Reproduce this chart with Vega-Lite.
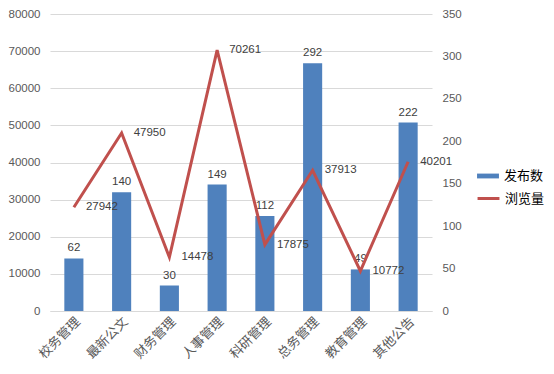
{
  "$schema": "https://vega.github.io/schema/vega-lite/v6.json",
  "width": 382,
  "height": 297,
  "autosize": {"type": "none"},
  "padding": {"left": 50, "top": 14, "right": 122, "bottom": 63},
  "background": "white",
  "config": {
    "view": {"stroke": null},
    "font": "Liberation Sans",
    "axis": {"labelColor": "#595959", "labelFontSize": 11.5, "domain": false, "ticks": false, "grid": false, "title": null, "labelOverlap": false}
  },
  "data": {
    "values": [
      {"cat": "校务管理", "pub": 62, "views": 27942},
      {"cat": "最新公文", "pub": 140, "views": 47950},
      {"cat": "财务管理", "pub": 30, "views": 14478},
      {"cat": "人事管理", "pub": 149, "views": 70261},
      {"cat": "科研管理", "pub": 112, "views": 17875},
      {"cat": "总务管理", "pub": 292, "views": 37913},
      {"cat": "教育管理", "pub": 49, "views": 10772},
      {"cat": "其他公告", "pub": 222, "views": 40201}
    ]
  },
  "encoding": {
    "x": {
      "field": "cat", "type": "nominal", "sort": null,
      "scale": {"paddingInner": 0.6, "paddingOuter": 0.3},
      "axis": {"labelAngle": -45, "labelAlign": "right", "labelBaseline": "top", "labelFont": "Noto Sans CJK SC", "labelFontSize": 13, "labelPadding": 4, "domain": true, "domainColor": "#D9D9D9", "ticks": false}
    }
  },
  "layer": [
    {
      "encoding": {
        "y": {"field": "pub", "type": "quantitative", "scale": {"domain": [0, 350]}, "axis": {"orient": "right", "values": [0, 50, 100, 150, 200, 250, 300, 350], "labelPadding": 10}}
      },
      "layer": [
        {
          "mark": {"type": "bar", "color": "#4F81BD"},
          "encoding": {
            "fill": {"datum": "发布数", "type": "nominal", "scale": {"range": ["#4F81BD"]}, "legend": {"orient": "none", "legendX": 426, "legendY": 150, "title": null, "symbolType": "M-1,-0.22H1V0.22H-1Z", "symbolSize": 480, "labelFont": "Noto Sans CJK SC", "labelFontSize": 13, "labelColor": "#000000", "labelOffset": 4}}
          }
        },
        {
          "mark": {"type": "text", "baseline": "bottom", "dy": -5, "fontSize": 11.5, "color": "#404040"},
          "encoding": {
            "text": {"field": "pub", "type": "quantitative"}
          }
        }
      ]
    },
    {
      "encoding": {
        "y": {"field": "views", "type": "quantitative", "scale": {"domain": [0, 80000]}, "axis": {"orient": "left", "values": [0, 10000, 20000, 30000, 40000, 50000, 60000, 70000, 80000], "grid": true, "gridColor": "#D9D9D9", "labelPadding": 10, "format": "d"}}
      },
      "layer": [
        {
          "mark": {"type": "line", "strokeWidth": 3},
          "encoding": {
            "stroke": {"datum": "浏览量", "type": "nominal", "scale": {"range": ["#C0504D"]}, "legend": {"orient": "none", "legendX": 426, "legendY": 172, "title": null, "symbolType": "stroke", "symbolStrokeWidth": 3, "symbolSize": 480, "labelFont": "Noto Sans CJK SC", "labelFontSize": 13, "labelColor": "#000000", "labelOffset": 4}}
          }
        },
        {
          "mark": {"type": "text", "align": "left", "baseline": "middle", "dx": 12, "fontSize": 11.5, "color": "#404040"},
          "encoding": {
            "text": {"field": "views", "type": "quantitative", "format": "d"}
          }
        }
      ]
    }
  ],
  "resolve": {"scale": {"y": "independent", "fill": "independent", "stroke": "independent"}}
}
